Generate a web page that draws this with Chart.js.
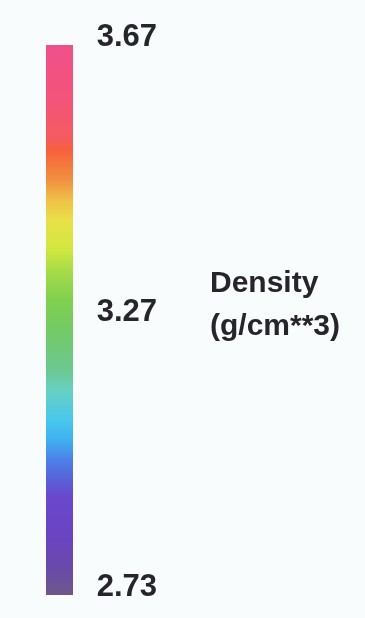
<!DOCTYPE html>
<html>
<head>
<meta charset="utf-8">
<script src="https://cdn.jsdelivr.net/npm/chart.js@4/dist/chart.umd.min.js"></script>
<style>
  html, body { margin: 0; padding: 0; background: #f8fcfd; }
  #wrap { position: relative; width: 365px; height: 618px; }
</style>
</head>
<body>
<div id="wrap"><canvas id="cbar"></canvas></div>
<script>
// Colour-bar legend for density
const densityLabels = ['2.73', '3.27', '3.67'];
const titleLines = ['Density', '(g/cm**3)'];

// Colour ramp from low (bottom) to high (top) density
const rampStops = [0.00, 0.045, 0.10, 0.178, 0.209, 0.245, 0.282, 0.318, 0.373, 0.409, 0.482,
                   0.536, 0.591, 0.627, 0.682, 0.718, 0.755, 0.809, 0.827, 0.90, 1.00];
const rampColors = ['#6e5888', '#6a4aa8', '#6a44c0', '#6a48cc', '#5860d8', '#4c80e8', '#40b0f0',
                    '#48c8ec', '#68d0c0', '#6cc890', '#74ca64', '#80d050', '#a8dc48', '#d0e840',
                    '#e8e048', '#f0c048', '#f09040', '#f8603c', '#f45c5c', '#f2547a', '#f0508a'];

const lastIndex = densityLabels.length - 1;

function rampGradient(ctx) {
  const chart = ctx.chart;
  const y = chart.scales.y;
  if (!chart.chartArea || !y) return rampColors[0];
  const g = chart.ctx.createLinearGradient(0, y.getPixelForValue(0), 0, y.getPixelForValue(lastIndex));
  rampStops.forEach((s, i) => g.addColorStop(s, rampColors[i]));
  return g;
}

const titlePlugin = {
  id: 'cbarTitle',
  afterDraw(chart) {
    const c = chart.ctx;
    const area = chart.chartArea;
    c.save();
    c.font = 'bold 30px "Liberation Sans", Arial, sans-serif';
    c.fillStyle = '#26252b';
    c.textAlign = 'left';
    c.textBaseline = 'alphabetic';
    const x = area.right + 137;
    const mid = (area.top + area.bottom) / 2;
    c.fillText(titleLines[0], x, mid - 28);
    c.fillText(titleLines[1], x, mid + 15);
    c.restore();
  }
};

new Chart(document.getElementById('cbar'), {
  type: 'bar',
  data: {
    labels: ['density'],
    datasets: [{
      data: [[0, lastIndex]],
      backgroundColor: rampGradient,
      borderWidth: 0,
      barPercentage: 1,
      categoryPercentage: 1
    }]
  },
  options: {
    responsive: true,
    maintainAspectRatio: false,
    animation: false,
    layout: { padding: { left: 46, right: 208, top: 45, bottom: 23 } },
    plugins: { legend: { display: false }, tooltip: { enabled: false } },
    scales: {
      x: { display: false },
      y: {
        position: 'right',
        min: 0,
        max: lastIndex,
        grid: { display: false, drawTicks: false },
        border: { display: false },
        afterBuildTicks(scale) {
          scale.ticks = densityLabels.map((_, i) => ({ value: i }));
        },
        afterFit(scale) {
          scale.width = 84;
          scale.paddingTop = 0;
          scale.paddingBottom = 0;
        },
        ticks: {
          autoSkip: false,
          padding: 8,
          crossAlign: 'far',
          labelOffset: -8,
          color: '#26252b',
          font: { family: '"Liberation Sans", Arial, sans-serif', size: 31, weight: 'bold' },
          callback: (v) => densityLabels[v]
        }
      }
    }
  },
  plugins: [titlePlugin]
});
</script>
</body>
</html>
